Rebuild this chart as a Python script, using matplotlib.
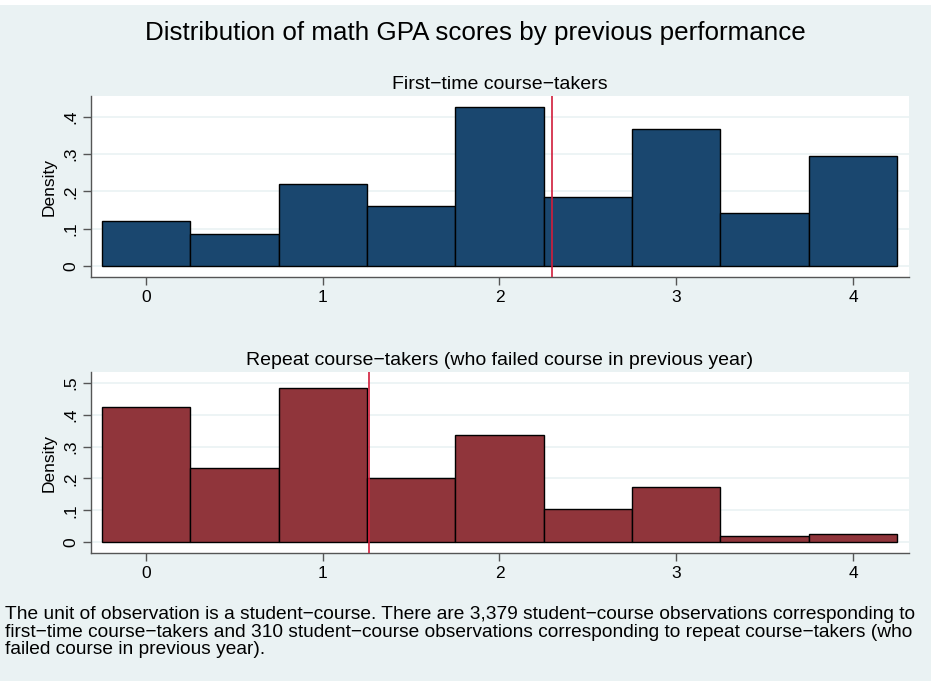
import matplotlib
matplotlib.use("Agg")
import matplotlib.pyplot as plt

# ---- data ----
bin_edges = [-0.25, 0.25, 0.75, 1.25, 1.75, 2.25, 2.75, 3.25, 3.75, 4.25]
first_density = [0.120, 0.087, 0.2185, 0.160, 0.425, 0.185, 0.366, 0.143, 0.294]
repeat_density = [0.4258, 0.2323, 0.4839, 0.200, 0.3355, 0.1032, 0.1742, 0.0194, 0.0258]
first_mean = 2.296
repeat_mean = 1.261
x_ticks = [0, 1, 2, 3, 4]
first_yticks = [0, 0.1, 0.2, 0.3, 0.4]
first_ylabels = ["0", ".1", ".2", ".3", ".4"]
repeat_yticks = [0, 0.1, 0.2, 0.3, 0.4, 0.5]
repeat_ylabels = ["0", ".1", ".2", ".3", ".4", ".5"]

title = "Distribution of math GPA scores by previous performance"
sub1 = "First\u2212time course\u2212takers"
sub2 = "Repeat course\u2212takers (who failed course in previous year)"
note = ("The unit of observation is a student\u2212course. There are 3,379 student\u2212course observations corresponding to\n"
        "first\u2212time course\u2212takers and 310 student\u2212course observations corresponding to repeat course\u2212takers (who\n"
        "failed course in previous year).")

plt.rcParams['font.family'] = ["Liberation Sans", "DejaVu Sans"]

BG = "#EAF2F3"
W, H = 931, 681
fig = plt.figure(figsize=(W / 100, H / 100), dpi=100, facecolor=BG)

def ax_rect(x0, y0, x1, y1):
    return [x0 / W, 1 - y1 / H, (x1 - x0) / W, (y1 - y0) / H]

# top white strip
fig.patches.append(plt.Rectangle((0, 1 - 5 / H), 1, 5 / H, transform=fig.transFigure,
                                 facecolor="white", edgecolor="none"))

def draw(ax, dens, mean, color, yticks, ylabels, ylim, subtitle):
    ax.set_facecolor("white")
    lefts = bin_edges[:-1]
    widths = [b - a for a, b in zip(bin_edges[:-1], bin_edges[1:])]
    ax.bar(lefts, dens, width=widths, align="edge", color=color, edgecolor="black",
           linewidth=1.0, zorder=2)
    ax.axvline(mean, color="#D11D3B", linewidth=1.2, zorder=3)
    ax.set_xlim(-0.311, 4.317)
    ax.set_ylim(*ylim)
    ax.set_xticks(x_ticks)
    ax.set_xticklabels([str(t) for t in x_ticks], fontsize=12.5)
    ax.set_yticks(yticks)
    ax.set_yticklabels(ylabels, fontsize=12.5, rotation=90, va="center")
    ax.yaxis.grid(True, color=BG, linewidth=1.2, zorder=0)
    ax.set_axisbelow(True)
    for s in ["top", "right"]:
        ax.spines[s].set_visible(False)
    for s in ["left", "bottom"]:
        ax.spines[s].set_color("#555555")
        ax.spines[s].set_linewidth(1.0)
    ax.tick_params(axis="both", direction="out", length=6, color="#555555", width=1.0, pad=3)
    ax.set_ylabel("Density", fontsize=12.5, labelpad=5)
    ax.set_title(subtitle, fontsize=14, pad=5)

ax1 = fig.add_axes(ax_rect(91, 96, 909, 277))
draw(ax1, first_density, first_mean, "#1A476F", first_yticks, first_ylabels,
     (-0.0295, 0.4556), sub1)
ax2 = fig.add_axes(ax_rect(91, 372, 909, 553))
draw(ax2, repeat_density, repeat_mean, "#90353B", repeat_yticks, repeat_ylabels,
     (-0.0347, 0.535), sub2)

fig.text(475 / W, 1 - 33 / H, title, fontsize=18.7, ha="center", va="center")
fig.text(5 / W, 1 - 606 / H, note, fontsize=13.8, ha="left", va="top", linespacing=1.05)

fig.savefig("out.png", dpi=100, facecolor=BG)
